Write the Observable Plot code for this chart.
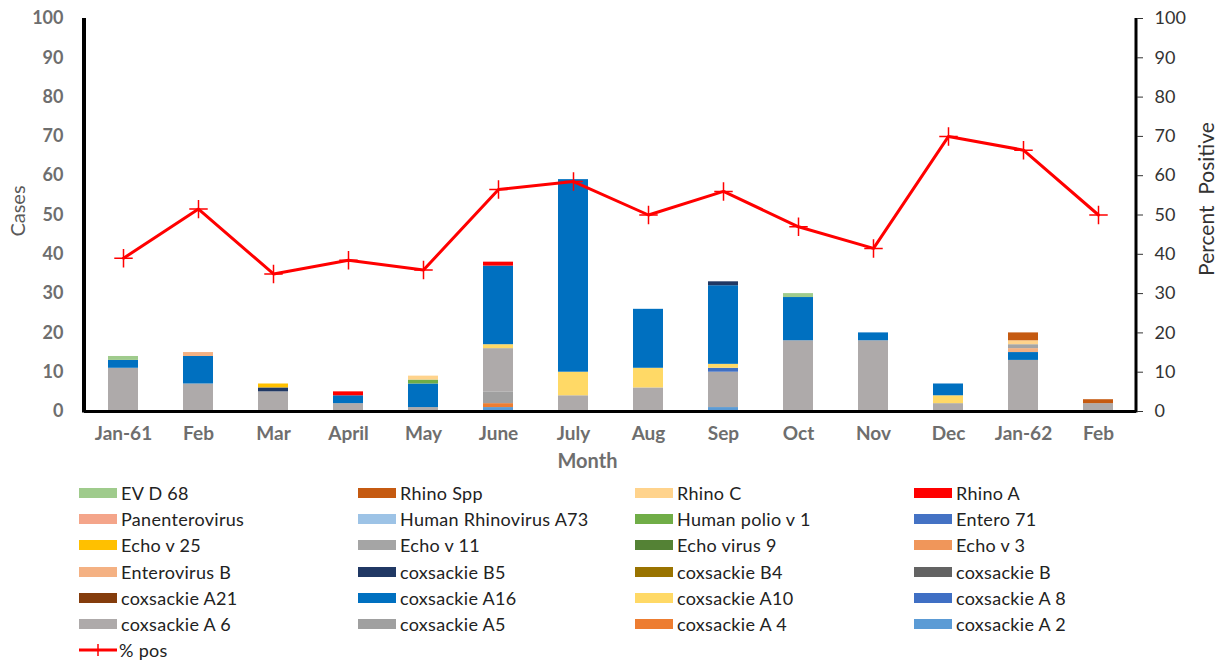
<!DOCTYPE html>
<html>
<head>
<meta charset="utf-8">
<script src="https://cdn.jsdelivr.net/npm/d3@7"></script>
<script src="https://cdn.jsdelivr.net/npm/@observablehq/plot@0.6"></script>
<style>
  body { margin: 0; background: #fff; font-family: Lato, "Open Sans", sans-serif; }
  #chart svg { display: block; font-family: Lato, "Open Sans", sans-serif; }
  #legend { display: grid; grid-template-columns: 279px 277px 279px 270px; grid-auto-rows: 26.2px; padding-left: 79px; margin-top: 10px; }
  .item { display: flex; align-items: center; font-size: 18px; letter-spacing: 0.3px; color: #222; white-space: nowrap; }
  .sw { width: 38px; height: 10px; margin-right: 4px; flex: none; }
  .lineSw { width: 38px; height: 14px; margin-right: 2px; flex: none; }
</style>
</head>
<body>
<div id="chart"></div>
<div id="legend"></div>
<script>
// Months (keys unique; labels as shown)
const monthKeys   = ["Jan-61","Feb-61","Mar","April","May","June","July","Aug","Sep","Oct","Nov","Dec","Jan-62","Feb-62"];
const monthLabels = ["Jan-61","Feb","Mar","April","May","June","July","Aug","Sep","Oct","Nov","Dec","Jan-62","Feb"];

// % positive (right axis)
const pctPos = [39, 51.5, 35, 38.5, 36, 56.5, 58.5, 50, 56, 47, 41.5, 70, 66.5, 50];

// Series in legend order
const seriesNames = ["EV D 68","Rhino Spp","Rhino C","Rhino A",
  "Panenterovirus","Human Rhinovirus A73","Human polio v 1","Entero 71",
  "Echo v 25","Echo v 11","Echo virus 9","Echo v 3",
  "Enterovirus B","coxsackie B5","coxsackie B4","coxsackie B",
  "coxsackie A21","coxsackie A16","coxsackie A10","coxsackie A 8",
  "coxsackie A 6","coxsackie A5","coxsackie A 4","coxsackie A 2"];
const seriesColors = ["#9fcb8c","#c55a11","#ffd38c","#ff0000",
  "#f4a58a","#9dc3e6","#70ad47","#4472c4",
  "#ffc000","#a5a5a5","#548235","#f0965a",
  "#f4b183","#203864","#997300","#636363",
  "#843c0c","#0070c0","#ffd966","#3f6fc4",
  "#aeaaaa","#a0a0a0","#ed7d31","#5b9bd5"];

// Case counts: [month, series, cases]
const cases = [
 ["Jan-61","coxsackie A 6",11],["Jan-61","coxsackie A16",2],["Jan-61","EV D 68",1],
 ["Feb-61","coxsackie A 6",7],["Feb-61","coxsackie A16",7],["Feb-61","Enterovirus B",1],
 ["Mar","coxsackie A 6",5],["Mar","coxsackie B5",1],["Mar","Echo v 25",1],
 ["April","coxsackie A 6",2],["April","coxsackie A16",2],["April","Rhino A",1],
 ["May","coxsackie A 6",1],["May","coxsackie A16",6],["May","Human polio v 1",1],["May","Rhino C",1],
 ["June","coxsackie A 2",1],["June","coxsackie A 4",1],["June","coxsackie A5",3],["June","coxsackie A 6",11],["June","coxsackie A10",1],["June","coxsackie A16",20],["June","Rhino A",1],
 ["July","coxsackie A 6",4],["July","coxsackie A10",6],["July","coxsackie A16",49],
 ["Aug","coxsackie A 6",6],["Aug","coxsackie A10",5],["Aug","coxsackie A16",15],
 ["Sep","coxsackie A 2",1],["Sep","coxsackie A 6",9],["Sep","coxsackie A 8",1],["Sep","coxsackie A10",1],["Sep","coxsackie A16",20],["Sep","coxsackie B5",1],
 ["Oct","coxsackie A 6",18],["Oct","coxsackie A16",11],["Oct","EV D 68",1],
 ["Nov","coxsackie A 6",18],["Nov","coxsackie A16",2],
 ["Dec","coxsackie A 6",2],["Dec","coxsackie A10",2],["Dec","coxsackie A16",3],
 ["Jan-62","coxsackie A 6",13],["Jan-62","coxsackie A16",2],["Jan-62","Enterovirus B",1],["Jan-62","Echo v 11",1],["Jan-62","Rhino C",1],["Jan-62","Rhino Spp",2],
 ["Feb-62","coxsackie A 6",2],["Feb-62","Rhino Spp",1]
];

const yTicks = [0,10,20,30,40,50,60,70,80,90,100];

const barData = cases.map(([month, series, value]) => ({month, series, value}));
const pctData = monthKeys.map((m, i) => ({month: m, pct: pctPos[i]}));
const stackOrder = seriesNames.slice().reverse();
const labelOf = new Map(monthKeys.map((k, i) => [k, monthLabels[i]]));

const axisLines = (index, scales, values, dims) => {
  const g = d3.create("svg:g");
  const top = dims.marginTop, bottom = dims.height - dims.marginBottom;
  const left = dims.marginLeft, right = dims.width - dims.marginRight;
  g.append("line").attr("x1", left).attr("x2", left).attr("y1", top).attr("y2", bottom + 1.5)
    .attr("stroke", "#000").attr("stroke-width", 4);
  g.append("line").attr("x1", right).attr("x2", right).attr("y1", top).attr("y2", bottom + 1.5)
    .attr("stroke", "#000").attr("stroke-width", 3);
  return g.node();
};

const chart = Plot.plot({
  width: 1223,
  height: 470,
  marginLeft: 84,
  marginRight: 87,
  marginTop: 18,
  marginBottom: 59,
  x: {domain: monthKeys, paddingInner: 0.6, paddingOuter: 0.3, axis: null},
  y: {domain: [0, 100], axis: null},
  color: {domain: seriesNames, range: seriesColors},
  marks: [
    Plot.barY(barData, {x: "month", y: "value", fill: "series", order: stackOrder}),
    axisLines,
    Plot.ruleY([0], {stroke: "#000", strokeWidth: 3}),
    Plot.axisY({anchor: "left", ticks: yTicks, tickSize: 0, tickPadding: 21, fontSize: 18, fontWeight: "bold", color: "#6e6e6e", label: null}),
    Plot.axisY({anchor: "right", ticks: yTicks, tickSize: 6, tickPadding: 12, fontSize: 18, color: "#333", label: null}),
    Plot.axisX({tickSize: 0, tickPadding: 15, fontSize: 19, fontWeight: "bold", color: "#6e6e6e", tickFormat: d => labelOf.get(d), label: null}),
    Plot.line(pctData, {x: "month", y: "pct", stroke: "#ff0000", strokeWidth: 3}),
    Plot.dot(pctData, {x: "month", y: "pct", symbol: "plus", stroke: "#ff0000", strokeWidth: 1.5, r: 6}),
    Plot.text(["Cases"], {text: d => d, frameAnchor: "left", textAnchor: "middle", dx: -66, dy: -4, rotate: -90, fontSize: 20, fill: "#595959"}),
    Plot.text(["Percent\u00a0 Positive"], {text: d => d, frameAnchor: "right", textAnchor: "middle", dx: 71, dy: -16, rotate: -90, fontSize: 21, fill: "#333"}),
    Plot.text(["Month"], {text: d => d, frameAnchor: "bottom", textAnchor: "middle", dy: 56, dx: -23, fontSize: 20, fontWeight: "bold", fill: "#6e6e6e"})
  ]
});
document.getElementById("chart").append(chart);

// Legend
const legend = document.getElementById("legend");
seriesNames.forEach((name, i) => {
  const item = document.createElement("div");
  item.className = "item";
  item.innerHTML = `<span class="sw" style="background:${seriesColors[i]}"></span><span>${name}</span>`;
  legend.append(item);
});
const lineItem = document.createElement("div");
lineItem.className = "item";
lineItem.innerHTML = `<svg class="lineSw" width="38" height="14"><line x1="0" x2="38" y1="7" y2="7" stroke="#ff0000" stroke-width="3"/><line x1="19" x2="19" y1="1" y2="13" stroke="#ff0000" stroke-width="1.5"/></svg><span>% pos</span>`;
legend.append(lineItem);
</script>
</body>
</html>
